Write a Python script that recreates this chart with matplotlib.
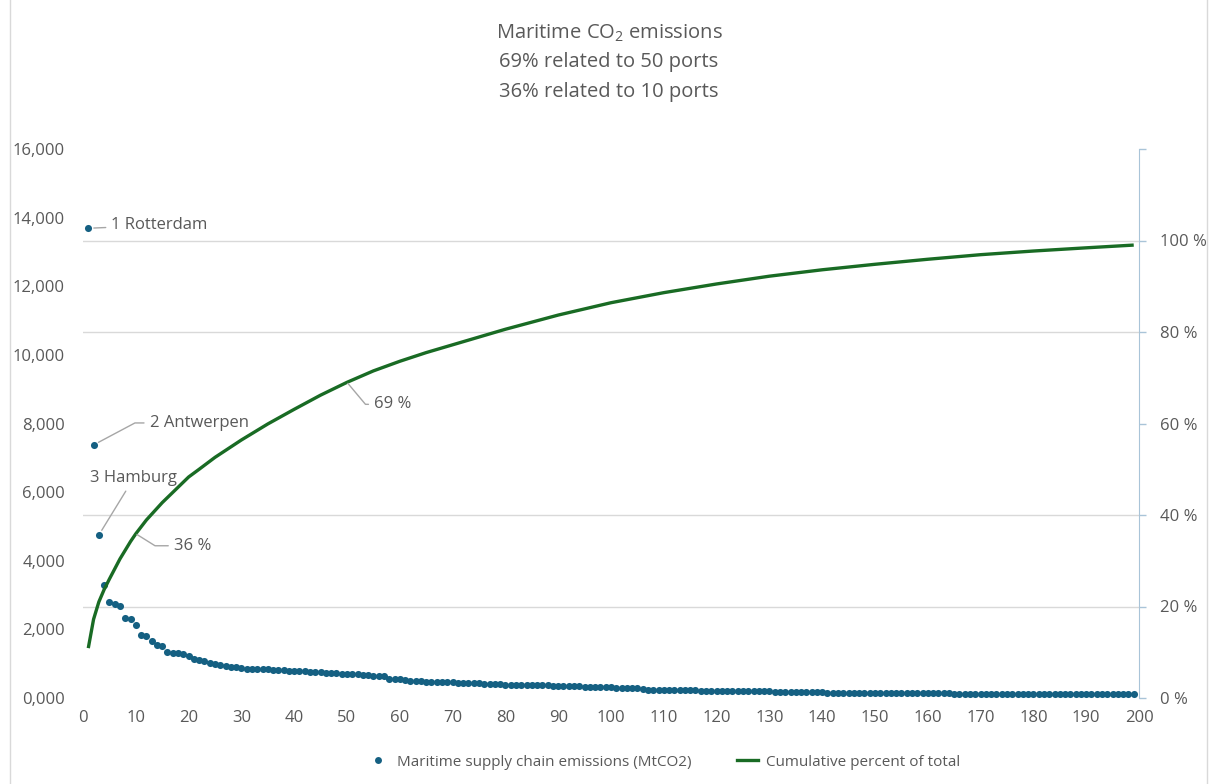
import numpy as np
import matplotlib
matplotlib.use("Agg")
import matplotlib.pyplot as plt
from matplotlib.lines import Line2D
from matplotlib.patches import Rectangle
from matplotlib.ticker import FuncFormatter

plt.rcParams['font.family'] = ['Open Sans', 'DejaVu Sans']

# emissions per port, ranked (MtCO2)
emissions = [
    13690, 7375, 4750, 3290, 2810, 2740, 2690, 2340, 2310, 2140,
    1840, 1810, 1650, 1545, 1525, 1350, 1300, 1300, 1275, 1235,
    1130, 1110, 1080, 1030, 990, 975, 945, 915, 890, 870,
    858, 852, 846, 840, 835, 828, 818, 808, 800, 792,
    787, 780, 770, 760, 750, 740, 730, 720, 710, 702,
    695, 688, 675, 662, 652, 648, 630, 560, 548, 542,
    520, 505, 498, 490, 475, 468, 462, 457, 455, 452,
    448, 444, 438, 430, 426, 420, 410, 402, 396, 390,
    388, 387, 386, 385, 380, 375, 370, 366, 362, 358,
    354, 348, 342, 338, 333, 330, 328, 322, 316, 312,
    302, 296, 291, 288, 285, 254, 246, 238, 234, 231,
    229, 227, 225, 223, 221, 219, 217, 215, 214, 213,
    212, 210, 209, 207, 206, 205, 204, 203, 201, 199,
    188, 184, 180, 178, 177, 176, 175, 175, 174, 166,
    156, 155, 155, 155, 155, 154, 154, 154, 154, 154,
    154, 153, 153, 152, 151, 150, 149, 148, 147, 146,
    144, 138, 134, 132, 130, 129, 128, 127, 126, 126,
    126, 126, 125, 125, 125, 125, 124, 124, 124, 123,
    123, 122, 122, 120, 118, 115, 112, 109, 108, 107,
    107, 107, 107, 106, 106, 106, 105, 105, 105,
]
rank = list(range(1, len(emissions) + 1))

# cumulative percent of total
cum_rank = [1, 2, 3, 4, 5, 6, 7, 8, 9, 10, 12, 15, 20, 22, 25, 30, 35, 40, 45,
            50, 55, 60, 65, 70, 75, 80, 90, 100, 110, 120, 130, 140, 150, 160,
            170, 180, 190, 199]
cum_pct = [10.9, 17.2, 21.0, 23.7, 26.0, 28.2, 30.4, 32.3, 34.2, 35.9, 38.9,
           42.7, 48.3, 50.0, 52.6, 56.4, 59.9, 63.1, 66.2, 69.0, 71.5, 73.6,
           75.5, 77.2, 78.9, 80.6, 83.7, 86.4, 88.6, 90.5, 92.2, 93.6, 94.8,
           95.9, 96.9, 97.7, 98.4, 99.0]

port_labels = ["1 Rotterdam", "2 Antwerpen", "3 Hamburg"]
title_lines = ["Maritime CO$\\mathregular{_2}$ emissions",
               "69% related to 50 ports",
               "36% related to 10 ports"]

blue = '#156082'
green = '#196B24'
grey = '#595959'
W, H = 1214, 784

fig = plt.figure(figsize=(W / 100, H / 100), dpi=100)
ax = fig.add_axes([83 / W, 1 - 698 / H, (1139 - 83) / W, (698 - 149) / H])
ax2 = ax.twinx()

ax.scatter(rank, emissions, s=26, color=blue, linewidths=0, zorder=3)
ax2.plot(cum_rank, cum_pct, color=green, lw=2.4, solid_capstyle='butt',
         solid_joinstyle='round')

ax.set_xlim(0, 200)
ax.set_ylim(0, 16000)
ax2.set_ylim(0, 120)

ax.set_xticks(range(0, 201, 10))
ax.set_yticks(range(0, 16001, 2000))
ax.yaxis.set_major_formatter(FuncFormatter(lambda v, p: "0,000" if v == 0 else f"{int(v):,}"))
# gridlines follow the percent axis (every 20 %)
ax.set_yticks(np.linspace(0, 16000, 7), minor=True)
ax.grid(which='minor', axis='y', color='#D9D9D9', lw=1)
ax.tick_params(which='both', length=0, labelsize=12, labelcolor=grey)
ax.tick_params(axis='x', pad=9)
ax.tick_params(axis='y', pad=13)

ax2.set_yticks(range(0, 121, 20))
ax2.set_yticklabels([f"{v} %" for v in range(0, 101, 20)] + [""])
ax2.tick_params(axis='y', length=5, width=1, color='#A9C4D8', labelcolor=grey,
                labelsize=12, pad=10)

for s in ax.spines.values():
    s.set_visible(False)
for k, s in ax2.spines.items():
    s.set_visible(k == 'right')
ax2.spines['right'].set_color('#A9C4D8')

leader = dict(arrowstyle='-', color='#A6A6A6', lw=1, shrinkA=2, shrinkB=4)
ax.annotate(port_labels[0], (rank[0], emissions[0]), xytext=(23, 3),
            textcoords='offset pixels', ha='left', va='center', fontsize=12,
            color=grey, arrowprops=leader)
ax.annotate(port_labels[1], (rank[1], emissions[1]), xytext=(56, 22),
            textcoords='offset pixels', ha='left', va='center', fontsize=12,
            color=grey,
            arrowprops=dict(leader, connectionstyle='angle,angleA=0,angleB=28,rad=0'))
ax.annotate(port_labels[2], (rank[2], emissions[2]), xytext=(35, 57),
            textcoords='offset pixels', ha='center', va='center', fontsize=12,
            color=grey, arrowprops=leader)

i10 = cum_rank.index(10)
i50 = cum_rank.index(50)
ax2.annotate(f"{cum_pct[i10]:.0f} %", (cum_rank[i10], cum_pct[i10]), xytext=(38, -12),
             textcoords='offset pixels', ha='left', va='center', fontsize=12,
             color=grey,
             arrowprops=dict(leader, shrinkB=1,
                             connectionstyle='angle,angleA=0,angleB=-32,rad=0'))
ax2.annotate(f"{cum_pct[i50]:.0f} %", (cum_rank[i50], cum_pct[i50]), xytext=(27, -22),
             textcoords='offset pixels', ha='left', va='center', fontsize=12,
             color=grey,
             arrowprops=dict(leader, shrinkB=1,
                             connectionstyle='angle,angleA=0,angleB=-50,rad=0'))

for line, y in zip(title_lines, [33, 62, 92]):
    fig.text(609 / W, 1 - y / H, line, ha='center', va='center', fontsize=14.5, color=grey)

handles = [Line2D([], [], marker='o', ls='', color=blue, ms=5, mew=0),
           Line2D([], [], color=green, lw=2.4)]
fig.legend(handles, ["Maritime supply chain emissions (MtCO2)", "Cumulative percent of total"],
           loc='center', bbox_to_anchor=(664 / W, 1 - 762 / H), ncol=2, frameon=False,
           fontsize=11, labelcolor=grey, handlelength=1.4, handletextpad=0.5,
           columnspacing=3)

fig.patches.append(Rectangle((10 / W, -0.01), 1197 / W, 1.02, transform=fig.transFigure,
                             fill=False, edgecolor='#D9D9D9', lw=1))

fig.savefig("out.png", dpi=100)
